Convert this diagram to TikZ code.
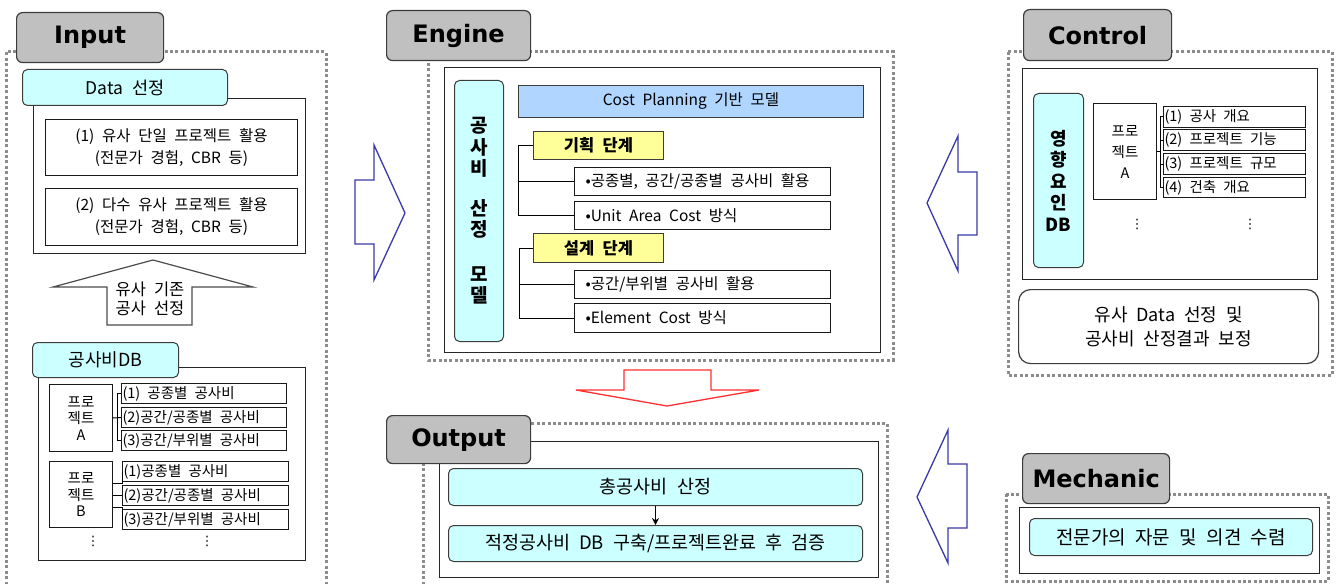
\documentclass[tikz,border=0pt]{standalone}
\usepackage{fontspec}
\setmainfont{Noto Sans CJK KR}[WordSpace=2.2]
\newfontfamily\titlefont{DejaVu Sans}
\newfontfamily\symfont{DejaVu Sans}
\usetikzlibrary{calc,arrows.meta}
\definecolor{cyanfill}{HTML}{CCFFFF}
\definecolor{titlegray}{HTML}{C0C0C0}
\definecolor{dotgray}{HTML}{8C8C8C}
\definecolor{bluefill}{HTML}{B0D6FF}
\definecolor{yellowfill}{HTML}{FFFF99}
\definecolor{arrowblue}{HTML}{3A3AA8}
\definecolor{edgegray}{HTML}{3C3C3C}
\definecolor{arrowred}{HTML}{FF3030}
\newcommand{\fsz}[2]{\fontsize{#1}{#2}\selectfont}
% box by corners: style, name, x1, y1, x2, y2, text
\newcommand{\rbox}[7]{\node[#1, minimum width={#5pt-#3pt}, minimum height={#6pt-#4pt}, anchor=north west] (#2) at (#3,#4) {#7};}
% left aligned: style, name, x1, y1, x2, y2, offset, text
\newcommand{\lbox}[8]{\node[#1, minimum width={#5pt-#3pt}, minimum height={#6pt-#4pt}, anchor=north west] (#2) at (#3,#4) {\makebox[\dimexpr #5pt-#3pt\relax][l]{\hspace{#7pt}#8}};}
\tikzset{
  panel/.style={draw=dotgray, line width=3pt, dash pattern=on 3pt off 2.4pt},
  titlebox/.style={draw=edgegray, fill=titlegray, rounded corners=6pt, line width=1.2pt, inner sep=0pt, font=\titlefont\bfseries\fsz{24}{28}},
  cyanbox/.style={draw=edgegray, fill=cyanfill, rounded corners=5pt, line width=1pt, inner sep=0pt, align=center},
  whitebox/.style={draw=black!85, fill=white, line width=1.2pt, inner sep=0pt},
  itembox/.style={draw=black!90, fill=white, line width=1pt, inner sep=0pt, align=center},
  bluebox/.style={draw=edgegray, fill=bluefill, line width=1pt, inner sep=0pt},
  yellowbox/.style={draw=edgegray, fill=yellowfill, line width=1pt, inner sep=0pt, font=\bfseries\fsz{16.5}{18}},
  blockarrow/.style={draw=arrowblue, line width=1.3pt, fill=white, line join=miter},
  link/.style={draw=black, line width=1pt},
  vdots/.style={inner sep=0pt, font=\symfont\fsz{13}{14}}
}
\begin{document}
\begin{tikzpicture}[x=1pt,y=-1pt]
\useasboundingbox[fill=white] (0,0) rectangle (1337,583);

% ---------- dotted panels ----------
\draw[panel] (6,590) -- (6,52) -- (326,52) -- (326,590);
\draw[panel] (428,52) rectangle (893,360);
\draw[panel] (1008,52) rectangle (1332,375);
\draw[panel] (423,590) -- (423,423) -- (887,423) -- (887,590);
\draw[panel] (1006,494) rectangle (1328,581);

% ---------- INPUT ----------
\rbox{whitebox}{datapanel}{33}{98}{305}{253}{}
\rbox{titlebox}{tinput}{16}{12}{163}{62}{Input}
\rbox{cyanbox, font=\fsz{17.5}{20}}{datasel}{22}{69}{227}{105}{Data 선정}
\rbox{itembox, font=\fsz{15.5}{22}}{single}{45}{119}{297}{175}{(1) 유사 단일 프로젝트 활용\\(전문가 경험, CBR 등)}
\rbox{itembox, font=\fsz{15.5}{22}}{multi}{45}{188}{297}{245}{(2) 다수 유사 프로젝트 활용\\(전문가 경험, CBR 등)}

\draw[draw=black!70, line width=1.2pt, fill=white, line join=miter]
  (153,260) -- (253,287) -- (192,287) -- (192,325) -- (107,325) -- (107,287) -- (53,287) -- cycle;
\node[inner sep=0pt, align=center, font=\fsz{16.5}{19.5}] (simsel) at (150,299) {유사 기존\\공사 선정};

\rbox{whitebox}{dbpanel}{38}{367}{305}{560}{}
\rbox{cyanbox, font=\fsz{18}{20}}{costdb}{32}{342}{178}{377}{공사비DB}
\rbox{itembox, font=\fsz{14.5}{16.5}}{pa}{49}{384}{112}{451}{프로\\젝트\\A}
\lbox{itembox, font=\fsz{14.5}{15}}{pa1}{121}{383}{286}{403}{1}{(1) 공종별 공사비}
\lbox{itembox, font=\fsz{14.5}{15}}{pa2}{121}{407}{286}{427}{1}{(2)공간/공종별 공사비}
\lbox{itembox, font=\fsz{14.5}{15}}{pa3}{121}{430}{286}{450}{1}{(3)공간/부위별 공사비}
\draw[link] (pa1.west) -- ++(-4,0) |- (pa3.west);
\draw[link] (pa.east) -- (pa2.west);

\rbox{itembox, font=\fsz{14.5}{16.5}}{pb}{49}{461}{112}{527}{프로\\젝트\\B}
\lbox{itembox, font=\fsz{14.5}{15}}{pb1}{122}{461}{288}{481}{1}{(1)공종별 공사비}
\lbox{itembox, font=\fsz{14.5}{15}}{pb2}{122}{485}{288}{505}{1}{(2)공간/공종별 공사비}
\lbox{itembox, font=\fsz{14.5}{15}}{pb3}{122}{509}{288}{529}{1}{(3)공간/부위별 공사비}
\draw[link] (pb.east |- 0,483) -| (pb1.west);
\draw[link] (pb.east |- pb2.west) -- (pb2.west);
\draw[link] (pb.east |- 0,507) -| (pb3.west);
\node[vdots] (dotsa) at (93,541) {⋮};
\node[vdots] (dotsb) at (207,541) {⋮};

% ---------- arrow Input -> Engine ----------
\draw[blockarrow] (355,180) -- (374,180) -- (374,145) -- (405,213) -- (374,280) -- (374,244) -- (355,244) -- cycle;

% ---------- ENGINE ----------
\rbox{whitebox}{engpanel}{444}{67}{880}{352}{}
\rbox{titlebox}{tengine}{386}{10}{530}{60}{Engine}
\rbox{cyanbox, font=\bfseries\fsz{19}{21.5}}{model}{454}{80}{503}{341}{공\\사\\비\\[18pt]산\\정\\[23pt]모\\델}
\rbox{bluebox, font=\fsz{15.5}{17}}{costplan}{518}{85}{863}{117}{Cost Planning 기반 모델}
\rbox{yellowbox}{plan}{533}{131}{663}{159}{기획 단계}
\lbox{itembox, font=\fsz{15.5}{16}}{e1}{574}{167}{830}{195}{11}{•공종별, 공간/공종별 공사비 활용}
\lbox{itembox, font=\fsz{15.5}{16}}{e2}{574}{201}{830}{229}{11}{•Unit Area Cost 방식}
\rbox{yellowbox}{design}{533}{233}{663}{262}{설계 단계}
\lbox{itembox, font=\fsz{15.5}{16}}{e3}{574}{270}{830}{298}{11}{•공간/부위별 공사비 활용}
\lbox{itembox, font=\fsz{15.5}{16}}{e4}{574}{303}{830}{332}{11}{•Element Cost 방식}
\draw[link] (plan.west) -- ++(-15,0) coordinate (pbk) |- (e2.west);
\draw[link] (pbk |- e1.west) -- (e1.west);
\draw[link] (design.west) -- ++(-14,0) coordinate (dbk) |- (e4.west);
\draw[link] (dbk |- e3.west) -- (e3.west);

% ---------- red arrow Engine -> Output ----------
\draw[draw=arrowred, line width=1.3pt, fill=white, line join=miter]
  (624,370) -- (711,370) -- (711,390) -- (759,390) -- (667,406) -- (576,390) -- (624,390) -- cycle;

% ---------- OUTPUT ----------
\rbox{whitebox}{outpanel}{439}{441}{878}{577}{}
\rbox{titlebox}{toutput}{386}{415}{530}{463}{Output}
\rbox{cyanbox, font=\fsz{18.5}{20}}{total}{448}{468}{862}{505}{총공사비 산정}
\rbox{cyanbox, font=\fsz{18.5}{20}}{verify}{448}{525}{862}{561}{적정공사비 DB 구축/프로젝트완료 후 검증}
\draw[line width=1pt, -{Stealth[length=7pt,width=7pt]}] (total.south) -- (verify.north);

% ---------- CONTROL ----------
\rbox{whitebox}{ctrlpanel}{1022}{68}{1317}{279}{}
\rbox{titlebox}{tcontrol}{1023}{9}{1171}{60}{Control}
\rbox{cyanbox, font=\bfseries\fsz{18}{21.5}}{factor}{1033}{93}{1083}{267}{영\\향\\요\\인\\DB}
\rbox{itembox, font=\fsz{14.5}{21}}{ca}{1093}{103}{1156}{199}{프로\\젝트\\A}
\lbox{itembox, font=\fsz{14.5}{15}}{c1}{1163}{106}{1305}{127}{1}{(1) 공사 개요}
\lbox{itembox, font=\fsz{14.5}{15}}{c2}{1163}{129}{1305}{150}{1}{(2) 프로젝트 기능}
\lbox{itembox, font=\fsz{14.5}{15}}{c3}{1163}{153}{1305}{174}{1}{(3) 프로젝트 규모}
\lbox{itembox, font=\fsz{14.5}{15}}{c4}{1163}{177}{1305}{197}{1}{(4) 건축 개요}
\draw[link] (c1.west) -- ++(-3,0) coordinate (cbk) |- (c4.west);
\draw[link] (cbk |- c2.west) -- (c2.west);
\draw[link] (cbk |- c3.west) -- (c3.west);
\draw[link] (ca.east) -- (ca.east -| cbk);
\node[vdots] (dotsc) at (1137,224) {⋮};
\node[vdots] (dotsd) at (1250,224) {⋮};
\node[draw=edgegray, fill=white, line width=1.2pt, rounded corners=12pt, inner sep=0pt, align=center,
  minimum width=300pt, minimum height=74pt, anchor=north west, font=\fsz{18}{24}] (adjust) at (1018,289)
  {유사 Data 선정 및\\공사비 산정결과 보정};

% ---------- arrow Control -> Engine ----------
\draw[blockarrow] (977,172) -- (958,172) -- (958,136) -- (927,203) -- (958,271) -- (958,235) -- (977,235) -- cycle;

% ---------- MECHANIC ----------
\rbox{whitebox}{mechpanel}{1019}{507}{1319}{573}{}
\rbox{titlebox}{tmech}{1022}{453}{1169}{503}{Mechanic}
\rbox{cyanbox, font=\fsz{19}{20}}{expert}{1029}{518}{1312}{555}{전문가의 자문 및 의견 수렴}

% ---------- arrow Mechanic -> Output ----------
\draw[blockarrow] (967,464) -- (948,464) -- (948,430) -- (917,497) -- (948,563) -- (948,528) -- (967,528) -- cycle;
\end{tikzpicture}
\end{document}
